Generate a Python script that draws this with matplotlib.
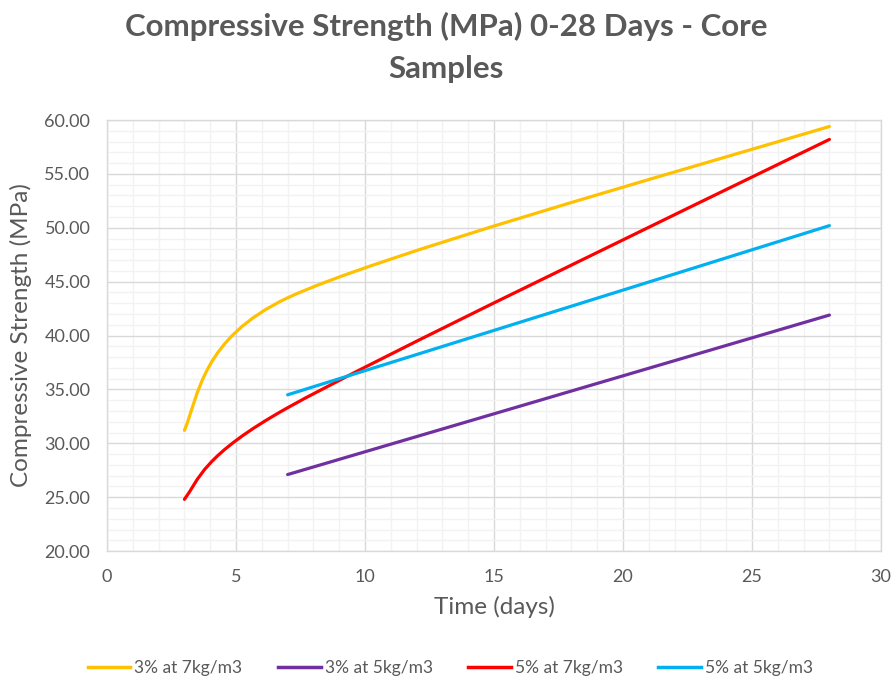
import matplotlib
matplotlib.use("Agg")
import matplotlib.pyplot as plt
import numpy as np
from matplotlib.path import Path
from matplotlib.patches import PathPatch
from matplotlib.lines import Line2D
from matplotlib.ticker import MultipleLocator, FormatStrFormatter

plt.rcParams["font.family"] = ["Lato", "DejaVu Sans"]

# test ages (days) and core strengths (MPa)
days_3pct_7kg = [3, 7, 28]
mpa_3pct_7kg = [31.2, 43.5, 59.4]
days_3pct_5kg = [7, 28]
mpa_3pct_5kg = [27.1, 41.9]
days_5pct_7kg = [3, 7, 28]
mpa_5pct_7kg = [24.8, 33.3, 58.2]
days_5pct_5kg = [7, 28]
mpa_5pct_5kg = [34.5, 50.2]

series = [
    ("3% at 7kg/m3", days_3pct_7kg, mpa_3pct_7kg, "#FFC000"),
    ("3% at 5kg/m3", days_3pct_5kg, mpa_3pct_5kg, "#7030A0"),
    ("5% at 7kg/m3", days_5pct_7kg, mpa_5pct_7kg, "#FF0000"),
    ("5% at 5kg/m3", days_5pct_5kg, mpa_5pct_5kg, "#00B0F0"),
]

TEXT = "#595959"


def smooth_path(x, y, k=7.5):
    # smoothed line: cubic bezier segments, interior tangents from the
    # neighbouring points, end tangents blended from chord and next control
    p = np.column_stack([x, y]).astype(float)
    n = len(p)
    if n == 2:
        return Path(p, [Path.MOVETO, Path.LINETO])
    tang = [None] * n
    for i in range(1, n - 1):
        tang[i] = (p[i + 1] - p[i - 1]) / k
    verts = [p[0]]
    codes = [Path.MOVETO]
    for i in range(n - 1):
        if i == 0:
            c2 = p[1] - tang[1]
            c1 = p[0] + (0.6 * (p[1] - p[0]) + 1.4 * (c2 - p[0])) / 6.0
        elif i == n - 2:
            c1 = p[i] + tang[i]
            c2 = p[i + 1] - (0.6 * (p[i + 1] - p[i]) + 1.4 * (p[i + 1] - c1)) / 6.0
        else:
            c1 = p[i] + tang[i]
            c2 = p[i + 1] - tang[i + 1]
        verts += [c1, c2, p[i + 1]]
        codes += [Path.CURVE4] * 3
    return Path(verts, codes)


fig = plt.figure(figsize=(8.92, 6.82), dpi=100)
ax = fig.add_axes([0.12, 0.192, 0.8677, 0.632])

ax.set_xlim(0, 30)
ax.set_ylim(20, 60)
ax.xaxis.set_major_locator(MultipleLocator(5))
ax.xaxis.set_minor_locator(MultipleLocator(1))
ax.yaxis.set_major_locator(MultipleLocator(5))
ax.yaxis.set_minor_locator(MultipleLocator(1))
ax.yaxis.set_major_formatter(FormatStrFormatter("%.2f"))

ax.grid(which="minor", color="#F2F2F2", linewidth=1.0)
ax.grid(which="major", color="#D9D9D9", linewidth=1.0)
ax.set_axisbelow(True)
for s in ax.spines.values():
    s.set_color("#D9D9D9")
    s.set_linewidth(1.0)
ax.tick_params(which="both", length=0, colors=TEXT, labelsize=13)
ax.tick_params(axis="x", pad=13)
ax.tick_params(axis="y", pad=12)

handles = []
for label, x, y, color in series:
    patch = PathPatch(smooth_path(x, y), facecolor="none", edgecolor=color,
                      linewidth=2.3, capstyle="round", joinstyle="round")
    ax.add_patch(patch)
    handles.append(Line2D([], [], color=color, linewidth=2.5, label=label))

ax.set_xlabel("Time (days)", fontsize=17.5, color=TEXT, labelpad=8)
ax.set_ylabel("Compressive Strength (MPa)", fontsize=17.5, color=TEXT, labelpad=9)

fig.text(0.5, 0.982, "Compressive Strength (MPa) 0-28 Days - Core\nSamples",
         ha="center", va="top", fontsize=22.5, fontweight="bold", color=TEXT,
         linespacing=1.6)

fig.legend(handles=handles, loc="center", bbox_to_anchor=(0.505, 0.02),
           ncol=4, frameon=False, fontsize=12.5, handlelength=2.45,
           handletextpad=0.23, columnspacing=2.05, labelcolor=TEXT)

fig.savefig("out.png", dpi=100)
